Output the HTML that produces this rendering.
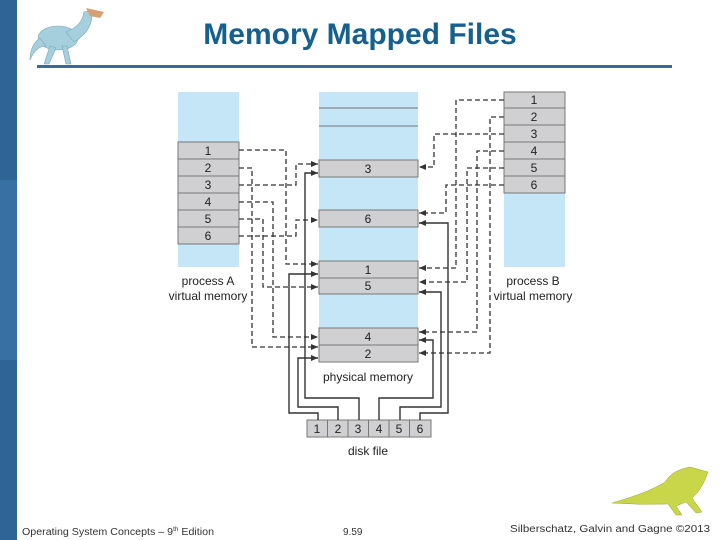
<!DOCTYPE html>
<html><head><meta charset="utf-8"><style>
html,body{margin:0;padding:0;background:#fff;}
svg{display:block;font-family:"Liberation Sans",Arial,sans-serif;}
</style></head><body>
<svg width="720" height="540" viewBox="0 0 720 540" xmlns="http://www.w3.org/2000/svg">
<defs>
<marker id="ah" markerWidth="8" markerHeight="8" refX="7" refY="4" orient="auto" markerUnits="userSpaceOnUse"><path d="M0,1 L7,4 L0,7 Z" fill="#333"/></marker>
</defs>
<rect x="0" y="0" width="17" height="540" fill="#2f6596"/>
<rect x="0" y="180" width="17" height="180" fill="#3870a4"/>
<!-- dino top -->
<g fill="#a5cfdc" stroke="#7aa8b8" stroke-width="0.6">
<ellipse cx="58" cy="38" rx="20" ry="12"/>
<path d="M66,32 Q82,26 84,12 L92,10 Q94,30 74,42 Z"/>
<path d="M40,38 Q30,45 30,60 Q36,46 46,46 Z"/>
<path d="M50,46 L44,64 L49,64 L56,48 Z M62,46 L66,64 L71,64 L67,46 Z"/>
</g>
<path d="M86,8 L104,12 L100,18 L90,16 Z" fill="#d8a070"/>
<text x="360" y="44" text-anchor="middle" font-size="30" font-weight="bold" fill="#15608f">Memory Mapped Files</text>
<rect x="37" y="65" width="635" height="3" fill="#3b6b93"/>

<!-- process A -->
<rect x="178" y="92" width="61" height="175" fill="#c5e6f6"/>
<g font-size="12" fill="#222" text-anchor="middle">
<g stroke="#777" stroke-width="1" fill="#d0d0d2">
<rect x="178" y="142" width="61" height="17"/><rect x="178" y="159" width="61" height="17"/><rect x="178" y="176" width="61" height="17"/><rect x="178" y="193" width="61" height="17"/><rect x="178" y="210" width="61" height="17"/><rect x="178" y="227" width="61" height="17"/>
</g>
<text x="208" y="155">1</text><text x="208" y="172">2</text><text x="208" y="189">3</text><text x="208" y="206">4</text><text x="208" y="223">5</text><text x="208" y="240">6</text>
<text x="208" y="285">process A</text><text x="208" y="300">virtual memory</text>

<!-- physical -->
<rect x="319" y="92" width="99" height="270" fill="#c5e6f6"/>
<g stroke="#777" stroke-width="1">
<line x1="319" y1="108" x2="418" y2="108"/><line x1="319" y1="126" x2="418" y2="126"/>
</g>
<g stroke="#777" stroke-width="1" fill="#d0d0d2">
<rect x="319" y="160" width="99" height="17"/><rect x="319" y="210" width="99" height="17"/>
<rect x="319" y="261" width="99" height="17"/><rect x="319" y="278" width="99" height="16"/>
<rect x="319" y="328" width="99" height="17"/><rect x="319" y="345" width="99" height="17"/>
</g>
<text x="368" y="173">3</text><text x="368" y="223">6</text><text x="368" y="274">1</text><text x="368" y="290">5</text><text x="368" y="341">4</text><text x="368" y="358">2</text>
<text x="368" y="381">physical memory</text>

<!-- process B -->
<rect x="504" y="92" width="61" height="175" fill="#c5e6f6"/>
<g stroke="#777" stroke-width="1" fill="#d0d0d2">
<rect x="504" y="92" width="61" height="16"/><rect x="504" y="108" width="61" height="17"/><rect x="504" y="125" width="61" height="17"/><rect x="504" y="142" width="61" height="17"/><rect x="504" y="159" width="61" height="17"/><rect x="504" y="176" width="61" height="17"/>
</g>
<text x="534" y="104">1</text><text x="534" y="121">2</text><text x="534" y="138">3</text><text x="534" y="155">4</text><text x="534" y="172">5</text><text x="534" y="189">6</text>
<text x="533" y="285">process B</text><text x="533" y="300">virtual memory</text>

<!-- disk -->
<g stroke="#777" stroke-width="1" fill="#d0d0d2">
<rect x="307" y="420" width="20.5" height="17"/><rect x="327.5" y="420" width="20.5" height="17"/><rect x="348" y="420" width="20.5" height="17"/><rect x="368.5" y="420" width="20.5" height="17"/><rect x="389" y="420" width="20.5" height="17"/><rect x="409.5" y="420" width="21.5" height="17"/>
</g>
<text x="317" y="433">1</text><text x="338" y="433">2</text><text x="358" y="433">3</text><text x="379" y="433">4</text><text x="399" y="433">5</text><text x="420" y="433">6</text>
<text x="368" y="455">disk file</text>
</g>

<!-- dashed -->
<g fill="none" stroke="#333" stroke-width="1.3" stroke-dasharray="5,3" marker-end="url(#ah)">
<polyline points="239,150 286,150 286,264 318,264"/>
<polyline points="239,168 252,168 252,347 318,347"/>
<polyline points="239,185 296,185 296,164 318,164"/>
<polyline points="239,202 273,202 273,337 318,337"/>
<polyline points="239,219 263,219 263,287 318,287"/>
<polyline points="239,236 296,236 296,220 318,220"/>
<polyline points="504,100 456,100 456,268 419,268"/>
<polyline points="504,117 490,117 490,353 419,353"/>
<polyline points="504,134 434,134 434,167 419,167"/>
<polyline points="504,151 477,151 477,332 419,332"/>
<polyline points="504,168 467,168 467,282 419,282"/>
<polyline points="504,185 446,185 446,213 419,213"/>
</g>
<!-- solid -->
<g fill="none" stroke="#333" stroke-width="1.4" marker-end="url(#ah)">
<polyline points="318,420 318,413 289,413 289,274 318,274"/>
<polyline points="338,420 338,407 298,407 298,358 318,358"/>
<polyline points="359,420 359,398 305,398 305,173 318,173"/>
<polyline points="379,420 379,398 433,398 433,340 419,340"/>
<polyline points="400,420 400,407 441,407 441,292 419,292"/>
<polyline points="420,420 420,413 448,413 448,223 419,223"/>
</g>

<!-- dino bottom -->
<g fill="#c9d64a" stroke="#9aa630" stroke-width="0.5">
<path d="M612,503 Q650,492 665,482 Q672,470 690,467 L708,472 Q702,490 692,498 L702,512 L696,513 L686,502 L676,506 L682,515 L676,515 L668,504 Q640,505 612,503 Z"/>
</g>

<g font-size="10" fill="#333">
<text x="22" y="535" textLength="192" lengthAdjust="spacingAndGlyphs">Operating System Concepts – 9<tspan font-size="6" dy="-4">th</tspan><tspan dy="4"> Edition</tspan></text>
<text x="343" y="535">9.59</text>
<text x="510" y="532" textLength="200" lengthAdjust="spacingAndGlyphs">Silberschatz, Galvin and Gagne ©2013</text>
</g>
</svg>
</body></html>
